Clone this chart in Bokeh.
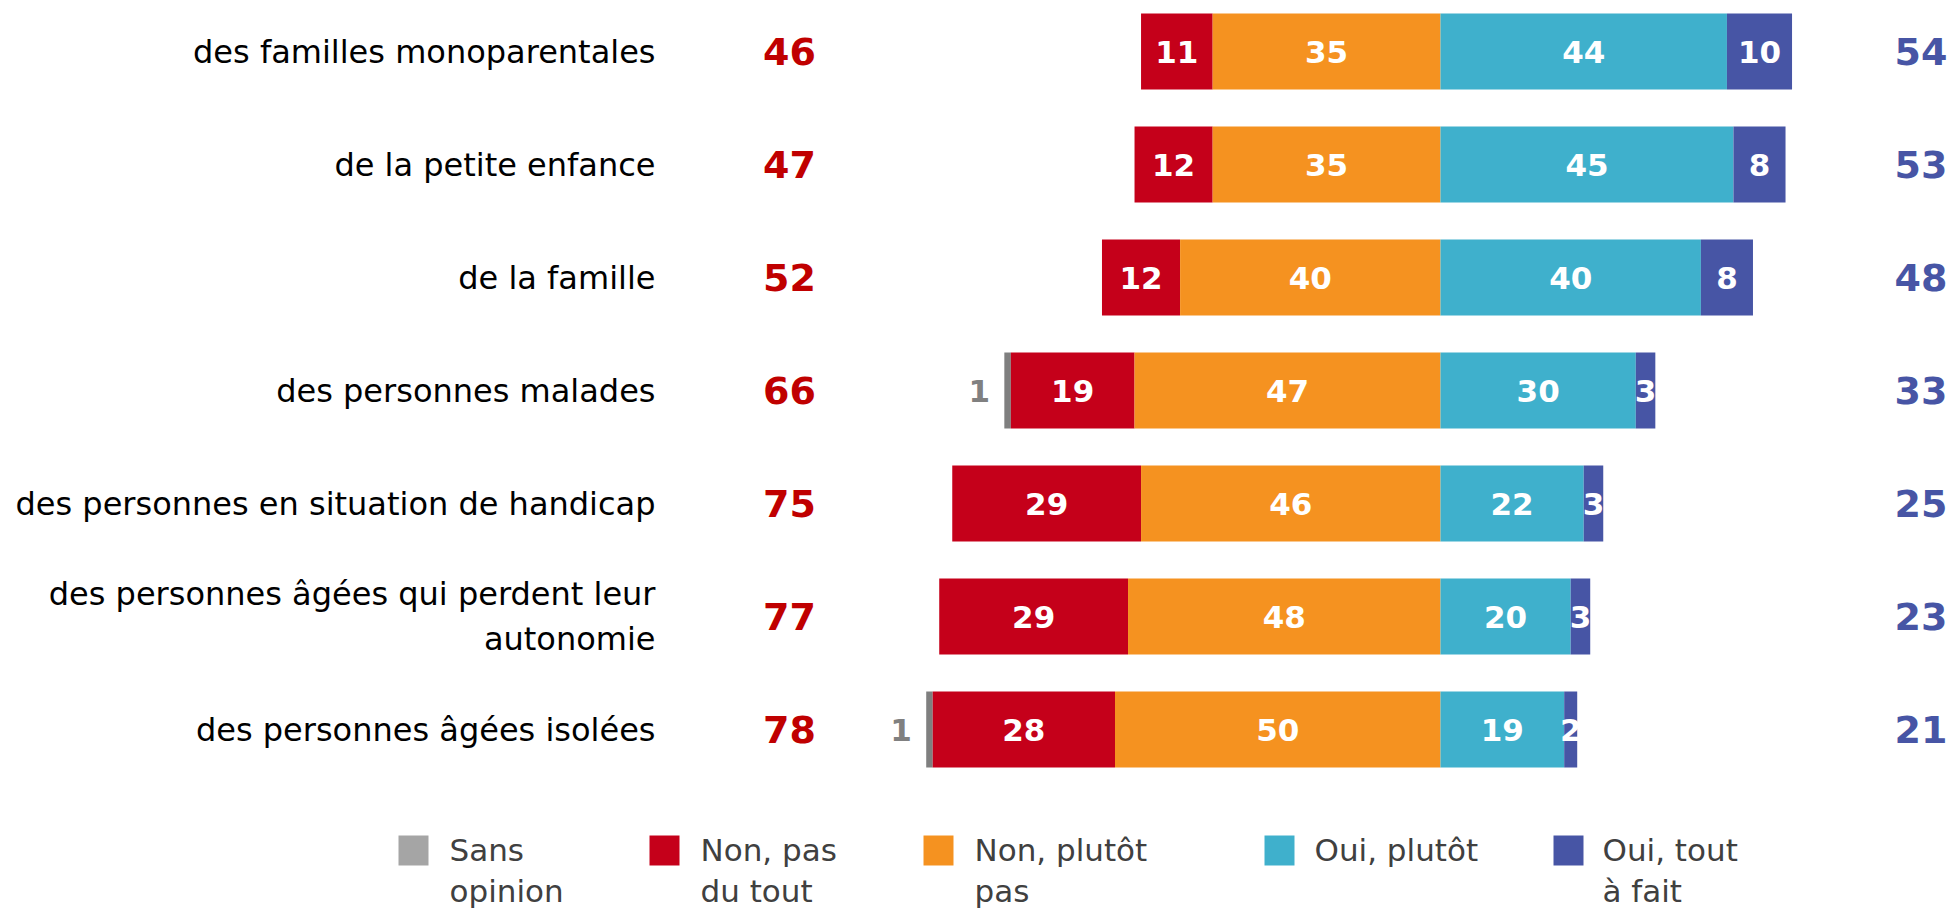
import numpy as np
from bokeh.plotting import figure
from bokeh.models import Range1d, ColumnDataSource
from bokeh.core.properties import value
from bokeh.embed import file_html
from bokeh.resources import INLINE

# ---------------- data ----------------
categories = [
    "des familles monoparentales",
    "de la petite enfance",
    "de la famille",
    "des personnes malades",
    "des personnes en situation de handicap",
    "des personnes âgées qui perdent leur\nautonomie",
    "des personnes âgées isolées",
]
sans_opinion = [0, 0, 0, 1, 0, 0, 1]
non_pas_du_tout = [11, 12, 12, 19, 29, 29, 28]
non_plutot_pas = [35, 35, 40, 47, 46, 48, 50]
oui_plutot = [44, 45, 40, 30, 22, 20, 19]
oui_tout_a_fait = [10, 8, 8, 3, 3, 3, 2]
total_non = [46, 47, 52, 66, 75, 77, 78]
total_oui = [54, 53, 48, 33, 25, 23, 21]

series_names = ["Sans\nopinion", "Non, pas\ndu tout", "Non, plutôt\npas", "Oui, plutôt", "Oui, tout\nà fait"]
bar_colors = ["#7F7F7F", "#C5001A", "#F59220", "#3FB0CC", "#4755A5"]
legend_colors = ["#A5A5A5", "#C5001A", "#F59220", "#3FB0CC", "#4755A5"]

# ---------------- layout (reference pixel geometry) ----------------
W, H = 1953, 913
CENTER_REF = 1440.0   # x of the 0 line
UNIT = 6.51           # px per percentage point
ROW0_REF = 51.0       # y centre of first row
ROW_STEP = 113.0

def dx(px):
    return (px - CENTER_REF) / UNIT

def dy(py):
    return (py - ROW0_REF) / ROW_STEP

FONT = value("DejaVu Sans")

p = figure(width=W, height=H,
           x_range=Range1d(dx(0), dx(W)),
           y_range=Range1d(dy(H), dy(0)),
           output_backend="svg", toolbar_location=None,
           x_axis_location=None, y_axis_location=None,
           min_border=0, min_border_left=0, min_border_right=0,
           min_border_top=0, min_border_bottom=0)
p.grid.visible = False
p.outline_line_color = None
p.background_fill_color = "white"
p.border_fill_color = "white"

rows = np.arange(len(categories))
s = np.array(sans_opinion, float)
n1 = np.array(non_pas_du_tout, float)
n2 = np.array(non_plutot_pas, float)
o1 = np.array(oui_plutot, float)
o2 = np.array(oui_tout_a_fait, float)

segments = [
    (-(n2 + n1 + s), -(n2 + n1), s),
    (-(n2 + n1), -n2, n1),
    (-n2, np.zeros_like(n2), n2),
    (np.zeros_like(o1), o1, o1),
    (o1, o1 + o2, o2),
]

BAR_H = 76 / ROW_STEP
for k, (left, right, vals) in enumerate(segments):
    src = ColumnDataSource(dict(y=rows, left=left, right=right))
    p.hbar(y="y", left="left", right="right", height=BAR_H, source=src,
           fill_color=bar_colors[k], line_color=None)
    mask = vals > 0
    if k == 0:
        lsrc = ColumnDataSource(dict(x=left[mask] - 2.2, y=rows[mask],
                                     t=[str(int(v)) for v in vals[mask]]))
        p.text(x="x", y="y", text="t", source=lsrc, text_align="right",
               text_baseline="middle", text_font=FONT, text_font_style="bold",
               text_font_size="31px", text_color="#808080")
    else:
        lsrc = ColumnDataSource(dict(x=(left[mask] + right[mask]) / 2, y=rows[mask],
                                     t=[str(int(v)) for v in vals[mask]]))
        p.text(x="x", y="y", text="t", source=lsrc, text_align="center",
               text_baseline="middle", text_font=FONT, text_font_style="bold",
               text_font_size="31px", text_color="white")

# category labels
csrc = ColumnDataSource(dict(x=[dx(655)] * len(rows), y=rows, t=categories))
p.text(x="x", y="y", text="t", source=csrc, text_align="right",
       text_baseline="middle", text_font=FONT, text_font_size="32px",
       text_color="black", text_line_height=1.2)

# totals
tsrc = ColumnDataSource(dict(x=[dx(789)] * len(rows), y=rows, t=[str(v) for v in total_non]))
p.text(x="x", y="y", text="t", source=tsrc, text_align="center",
       text_baseline="middle", text_font=FONT, text_font_style="bold",
       text_font_size="38px", text_color="#C00000")
tsrc2 = ColumnDataSource(dict(x=[dx(1947)] * len(rows), y=rows, t=[str(v) for v in total_oui]))
p.text(x="x", y="y", text="t", source=tsrc2, text_align="right",
       text_baseline="middle", text_font=FONT, text_font_style="bold",
       text_font_size="38px", text_color="#4755A5")

# legend
sq_x = [413, 664, 938, 1279, 1568]
tx_x = [449, 700, 974, 1314, 1602]
lsq = ColumnDataSource(dict(x=[dx(v) for v in sq_x], y=[dy(850)] * 5, c=legend_colors))
p.rect(x="x", y="y", width=30, height=30, width_units="screen", height_units="screen",
       fill_color="c", line_color=None, source=lsq)
ltx = ColumnDataSource(dict(x=[dx(v) for v in tx_x], y=[dy(831)] * 5, t=series_names))
p.text(x="x", y="y", text="t", source=ltx, text_align="left", text_baseline="top",
       text_font=FONT, text_font_size="31px", text_color="#404040", text_line_height=1.15)

open("out.html", "w").write(file_html(p, INLINE))
